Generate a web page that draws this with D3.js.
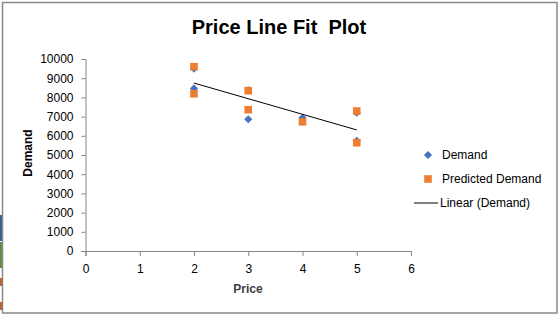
<!DOCTYPE html>
<html>
<head>
<meta charset="utf-8">
<script src="https://cdn.jsdelivr.net/npm/d3@7"></script>
<style>
  body { margin: 0; background: #fff; }
  svg { display: block; font-family: "Liberation Sans", Arial, sans-serif; }
</style>
</head>
<body>
<div id="chart"></div>
<script>
// Price (x) for each observation
const price = [2, 2, 3, 3, 4, 5, 5];
// Observed demand
const demand = [9500, 8470, 8380, 6860, 6940, 7200, 5740];
// Predicted demand from the regression
const predicted = [9600, 8190, 8350, 7360, 6730, 7290, 5640];
const xTicks = [0, 1, 2, 3, 4, 5, 6];
const yTicks = [0, 1000, 2000, 3000, 4000, 5000, 6000, 7000, 8000, 9000, 10000];
const legendItems = ['Demand', 'Predicted Demand', 'Linear (Demand)'];

const width = 559, height = 315;
const margin = { left: 85.5, right: 148, top: 59, bottom: 64 };

const svg = d3.select('#chart').append('svg')
  .attr('width', width)
  .attr('height', height);

// bits of the spreadsheet behind the chart
svg.append('rect').attr('x', 0).attr('y', 215).attr('width', 2).attr('height', 26).attr('fill', '#2f5f8f');
svg.append('rect').attr('x', 0).attr('y', 242).attr('width', 2).attr('height', 26).attr('fill', '#5e8d3d');
svg.append('rect').attr('x', 0).attr('y', 278).attr('width', 2).attr('height', 8).attr('fill', '#c0602a');
svg.append('rect').attr('x', 0).attr('y', 302).attr('width', 2).attr('height', 8).attr('fill', '#c0602a');

// chart area border
svg.append('rect')
  .attr('x', 2.5).attr('y', 2.5)
  .attr('width', 554.5).attr('height', 310.5)
  .attr('fill', '#fff')
  .attr('stroke', '#898989')
  .attr('stroke-width', 1.5);

const x = d3.scaleLinear().domain([0, 6]).range([margin.left, width - margin.right]);
const y = d3.scaleLinear().domain([0, 10000]).range([height - margin.bottom, margin.top]);

// title
svg.append('text')
  .attr('x', 279).attr('y', 34)
  .attr('text-anchor', 'middle')
  .style('font-size', '20px')
  .style('font-weight', 'bold')
  .style('fill', '#000')
  .style('white-space', 'pre')
  .text('Price Line Fit  Plot');

// axes
const yAxis = svg.append('g')
  .attr('transform', `translate(${margin.left},0)`)
  .call(d3.axisLeft(y).tickValues(yTicks).tickSize(4).tickPadding(8).tickFormat(d3.format('d')));
const xAxis = svg.append('g')
  .attr('transform', `translate(0,${y(0)})`)
  .call(d3.axisBottom(x).tickValues(xTicks).tickSize(5).tickPadding(8).tickFormat(d3.format('d')));

[xAxis, yAxis].forEach(ax => {
  ax.select('.domain').attr('stroke', '#868686').attr('stroke-width', 1);
  ax.selectAll('.tick line').attr('stroke', '#868686');
  ax.selectAll('.tick text').style('font-size', '12px').style('fill', '#000')
    .style('font-family', '"Liberation Sans", Arial, sans-serif');
});

// axis titles
svg.append('text')
  .attr('transform', 'translate(32,153) rotate(-90)')
  .attr('text-anchor', 'middle')
  .style('font-size', '12px')
  .style('font-weight', 'bold')
  .text('Demand');
svg.append('text')
  .attr('x', 248).attr('y', 293)
  .attr('text-anchor', 'middle')
  .style('font-size', '12px')
  .style('font-weight', 'bold')
  .style('fill', '#404040')
  .text('Price');

const diamond = d3.symbol().type(d3.symbolDiamond2).size(42);
const square = d3.symbol().type(d3.symbolSquare).size(58);

// observed demand
svg.append('g').selectAll('path')
  .data(price.map((p, i) => ({ x: p, y: demand[i] })))
  .join('path')
  .attr('transform', d => `translate(${x(d.x)},${y(d.y)})`)
  .attr('d', diamond)
  .attr('fill', '#4472c4');

// predicted demand
svg.append('g').selectAll('path')
  .data(price.map((p, i) => ({ x: p, y: predicted[i] })))
  .join('path')
  .attr('transform', d => `translate(${x(d.x)},${y(d.y)})`)
  .attr('d', square)
  .attr('fill', '#ed7d31');

// linear trendline (least squares on demand)
const mx = d3.mean(price), my = d3.mean(demand);
const slope = d3.sum(price, (p, i) => (p - mx) * (demand[i] - my)) / d3.sum(price, p => (p - mx) ** 2);
const intercept = my - slope * mx;
const xExt = d3.extent(price);
svg.append('path')
  .datum(xExt.map(v => ({ x: v, y: intercept + slope * v })))
  .attr('d', d3.line().x(d => x(d.x)).y(d => y(d.y)))
  .attr('fill', 'none')
  .attr('stroke', '#000')
  .attr('stroke-width', 1);

// legend
const legend = svg.append('g');
legendItems.forEach((name, i) => {
  const ly = 155 + i * 24;
  if (i === 0) {
    legend.append('path').attr('transform', `translate(428,${ly})`).attr('d', diamond).attr('fill', '#4472c4');
  } else if (i === 1) {
    legend.append('path').attr('transform', `translate(428,${ly})`).attr('d', square).attr('fill', '#ed7d31');
  } else {
    legend.append('line').attr('x1', 414).attr('x2', 438).attr('y1', ly).attr('y2', ly)
      .attr('stroke', '#000').attr('stroke-width', 1);
  }
  legend.append('text')
    .attr('x', i === 2 ? 440 : 442)
    .attr('y', ly + 4)
    .style('font-size', '12px')
    .style('fill', '#000')
    .text(name);
});
</script>
</body>
</html>
